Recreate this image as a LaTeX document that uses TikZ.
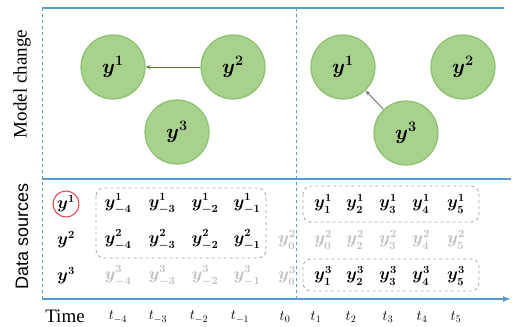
\documentclass[tikz,border=0pt]{standalone}
\usepackage{fontspec}
\setmainfont{Liberation Serif}
\setsansfont{Liberation Sans}
\usetikzlibrary{arrows.meta,positioning}
\definecolor{lineblue}{HTML}{5B9BD5}
\definecolor{nodegreen}{HTML}{A9D18E}
\definecolor{edgegreen}{HTML}{8CBF6E}
\definecolor{arrowgreen}{HTML}{548235}
\definecolor{boxgray}{HTML}{A6A6A6}
\definecolor{fadegray}{HTML}{BFBFBF}
\definecolor{markred}{HTML}{E8404A}
\tikzset{
  var/.style={circle, draw=edgegreen, fill=nodegreen, line width=1.2pt, minimum size=64pt, inner sep=0pt, font=\fontsize{22}{22}\selectfont\boldmath},
  entry/.style={inner sep=1pt, font=\fontsize{16}{16}\selectfont\boldmath},
  faded/.style={entry, text=fadegray},
  tick/.style={inner sep=1pt, font=\fontsize{14}{14}\selectfont},
  sidelabel/.style={rotate=90, font=\fontsize{19}{19}\selectfont},
  frame/.style={lineblue, line width=1.2pt},
  divider/.style={lineblue, dashed, line width=0.9pt},
  group/.style={draw=boxgray, dashed, rounded corners=8pt, line width=0.8pt},
  arrow/.style={-{Stealth[length=5pt]}, arrowgreen, line width=0.9pt},
}

\begin{document}
\begin{tikzpicture}[x=1pt,y=-1pt]
  \useasboundingbox (0,0) rectangle (512,327);

  % FRAME
  \coordinate (topW) at (42,8);
  \coordinate (topE) at (504,8);
  \coordinate (midW) at (42,179);
  \coordinate (midE) at (511,179);
  \coordinate (axisW) at (42,299);
  \coordinate (axisE) at (511,299);
  \coordinate (divTop) at (296,8);
  \coordinate (divBot) at (296,299);
  \draw[frame] (topW) -- (topE);
  \draw[frame] (midW) -- (midE);
  \draw[frame, -{Latex[length=8pt]}] (axisW) -- (axisE);
  \draw[divider] (topW) -- (axisW);
  \draw[divider] (divTop) -- (divBot);

  % SIDE LABELS
  \node[sidelabel] (model) at (22,84) {Model change};
  \node[sidelabel, font=\fontsize{18}{18}\selectfont\sffamily] (data) at (22,236) {Data sources};
  \node[font=\fontsize{19}{19}\selectfont] (time) at (65,316) {Time};

  % MODEL CHANGE: BEFORE
  \node[var] (oneA) at (113,67) {$y^1$};
  \node[var] (twoA) at (233,67) {$y^2$};
  \node[var] (threeA) at (177,132) {$y^3$};
  \draw[arrow] (twoA) -- (oneA);

  % MODEL CHANGE: AFTER
  \node[var] (oneB) at (343,67) {$y^1$};
  \node[var] (twoB) at (463,67) {$y^2$};
  \node[var] (threeB) at (406,133) {$y^3$};
  \draw[arrow, black!55] (threeB) -- (oneB);

  % DATA SOURCES
  \node[entry] (src1) at (66,204) {$y^1$};
  \node[entry] (src2) at (66,240) {$y^2$};
  \node[entry] (src3) at (66,276) {$y^3$};
  \draw[markred, line width=1pt] (src1) circle (13);

  % PAST
  \foreach \c/\x in {-4/118,-3/162,-2/205,-1/247} {
    \node[entry] (p1\c) at (\x,204) {$y^1_{\c}$};
    \node[entry] (p2\c) at (\x,240) {$y^2_{\c}$};
    \node[faded] (p3\c) at (\x,276) {$y^3_{\c}$};
  }
  \node[faded] (p20) at (287,240) {$y^2_0$};
  \node[faded] (p30) at (287,276) {$y^3_0$};
  \coordinate (pastNW) at (96,188);
  \coordinate (pastSE) at (266,258);
  \draw[group] (pastNW) rectangle (pastSE);

  % FUTURE
  \foreach \c/\x in {1/323,2/355,3/388,4/421,5/456} {
    \node[entry] (f1\c) at (\x,204) {$y^1_{\c}$};
    \node[entry] (f3\c) at (\x,276) {$y^3_{\c}$};
  }
  \node[faded] (f21) at (323,240) {$y^2_0$};
  \foreach \c/\x in {2/355,3/388,4/421,5/456}
    \node[faded] (f2\c) at (\x,240) {$y^2_{\c}$};
  \coordinate (oneNW) at (303,186);
  \coordinate (oneSE) at (479,222);
  \coordinate (threeNW) at (303,259);
  \coordinate (threeSE) at (479,291);
  \draw[group] (oneNW) rectangle (oneSE);
  \draw[group] (threeNW) rectangle (threeSE);

  % TIME TICKS
  \foreach \c/\x in {-4/118,-3/158,-2/199,-1/240,0/285,1/316,2/351,3/388,4/422,5/456}
    \node[tick] (t\c) at (\x,317) {$t_{\c}$};
\end{tikzpicture}
\end{document}
